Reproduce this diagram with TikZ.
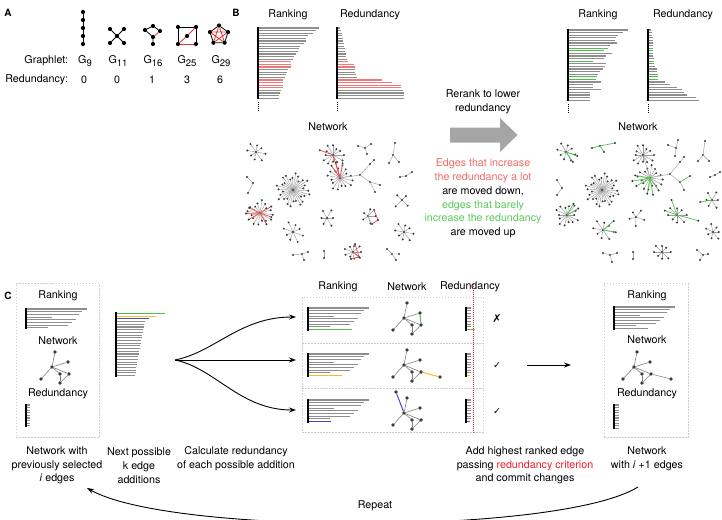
\documentclass[tikz,border=0pt]{standalone}
\usepackage{fontspec}
\setmainfont{TeX Gyre Heros}
\newfontfamily\symfont{DejaVu Sans}
\usetikzlibrary{arrows.meta}

\definecolor{bargray}{HTML}{8E8E8E}
\definecolor{barred}{HTML}{F07878}
\definecolor{bargreen}{HTML}{4FC04F}
\definecolor{baryel}{HTML}{F0C020}
\definecolor{barblue}{HTML}{4A4AD0}
\definecolor{txtred}{HTML}{F06A6A}
\definecolor{txtgreen}{HTML}{5CC85C}
\definecolor{critred}{HTML}{E8202A}
\definecolor{edgegray}{HTML}{A0A0A0}
\definecolor{dotgray}{HTML}{3A3A3A}
\definecolor{arrowgray}{HTML}{A5A5A5}
\definecolor{boxgray}{HTML}{CCCCCC}
\definecolor{netred}{HTML}{EE5050}
\definecolor{netgreen}{HTML}{55C455}
\definecolor{graphred}{HTML}{E83030}

% a hub with spokes of slightly varying length
\newcommand\hub[5]{% x, y, spokes, radius, start angle
  \foreach \hk in {1,...,#3}{%
    \pgfmathsetmacro\hang{#5+360*\hk/#3}%
    \pgfmathsetmacro\hlen{#4*(0.8+0.2*sin(97*\hk))}%
    \draw[netedge] (#1,#2) -- ++(\hang:\hlen) node[netdot]{};
  }%
  \node[netdot] at (#1,#2) {};%
}
% one highlighted spoke
\newcommand\spoke[5]{\draw[#5] (#1,#2) -- ++(#3:#4) node[netdot]{};}
% a column of horizontal bars
\newcommand\bars[4]{% axis x, first y, row step, length/colour list
  \foreach \barlen/\barcol [count=\bi from 0] in {#4}{%
    \draw[bar,\barcol] (#1,#2+\bi*#3) -- ++(\barlen,0);
  }%
}
% small network used in panel C
\newcommand\cnet[3]{% x, y, prefix
  \node[cdot] (#3c) at (#1,#2) {};
  \node[cdot] (#3t) at ([shift={(3,-15)}]#3c) {};
  \node[cdot] (#3r) at ([shift={(16,-5)}]#3c) {};
  \node[cdot] (#3l) at ([shift={(-11,12)}]#3c) {};
  \node[cdot] (#3a) at ([shift={(8,7)}]#3c) {};
  \node[cdot] (#3b) at ([shift={(17,7)}]#3c) {};
  \node[cdot] (#3d) at ([shift={(8,16)}]#3c) {};
  \draw[cedge] (#3c) -- (#3t);
  \draw[cedge] (#3c) -- (#3r);
  \draw[cedge] (#3c) -- (#3l);
  \draw[cedge] (#3c) -- (#3a);
  \draw[cedge] (#3c) -- (#3b);
  \draw[cedge] (#3a) -- (#3d);
  \draw[cedge] (#3b) -- (#3d);
}
\newcommand\gsub[1]{G\raisebox{-0.4ex}{\fontsize{9.5}{9.5}\selectfont#1}}

\begin{document}
\begin{tikzpicture}[x=1pt,y=-1pt,
  every node/.style={inner sep=0pt, outer sep=0pt, font=\fontsize{10.7}{13.7}\selectfont},
  lbl/.style={align=center},
  panel/.style={font=\fontsize{10}{12}\selectfont\bfseries},
  gdot/.style={circle, fill=black, minimum size=4.2pt},
  gedge/.style={line width=0.8pt, black},
  gred/.style={line width=0.8pt, graphred},
  bar/.style={line width=1.05pt},
  axisline/.style={line width=1.3pt, black},
  dotaxis/.style={line width=0.9pt, black, dash pattern=on 0.8pt off 1.2pt},
  netedge/.style={edgegray, line width=0.45pt},
  netdot/.style={circle, fill=dotgray, minimum size=2.2pt},
  hot/.style={netred, line width=0.75pt},
  cool/.style={netgreen, line width=0.75pt},
  cedge/.style={line width=0.6pt, gray},
  cdot/.style={circle, fill=dotgray, minimum size=3.6pt},
  dbox/.style={draw=boxgray, line width=0.6pt, dash pattern=on 1.5pt off 1.5pt},
  arr/.style={-{Stealth[length=7pt,width=5pt]}, line width=0.9pt},
]
\useasboundingbox (0,0) rectangle (722,519);

% ================= A: graphlets =================
\node[panel] (pA) at (8,13) {A};
\foreach \j in {0,...,4} \node[gdot] (p\j) at (83,12+8*\j) {};
\draw[gedge] (p0) -- (p1) -- (p2) -- (p3) -- (p4);

\node[gdot] (s0) at (117,36) {};
\node[gdot] (s1) at (110,29) {};
\node[gdot] (s2) at (124,29) {};
\node[gdot] (s3) at (110,43) {};
\node[gdot] (s4) at (124,43) {};
\foreach \j in {1,...,4} \draw[gedge] (s0) -- (s\j);

\node[gdot] (q1) at (153,26) {};
\node[gdot] (q2) at (145,30) {};
\node[gdot] (q3) at (160,31) {};
\node[gdot] (q4) at (153,37) {};
\node[gdot] (q5) at (153,44) {};
\draw[gedge] (q2) -- (q1) -- (q3);
\draw[gedge] (q2) -- (q4) -- (q5);
\draw[gred] (q3) -- (q4);

\node[gdot] (r1) at (178,27) {};
\node[gdot] (r2) at (196,27) {};
\node[gdot] (r3) at (178,44) {};
\node[gdot] (r4) at (196,44) {};
\node[gdot] (r5) at (187,36) {};
\draw[gedge] (r3) -- (r1) -- (r2) -- (r4);
\draw[gred] (r3) -- (r4);
\draw[gred] (r3) -- (r5);
\draw[gred] (r5) -- (r2);

\foreach \j in {0,...,4} \path (219,35) ++(270+72*\j:9.5) node[gdot] (k\j) {};
\draw[gred] (k0) -- (k2) -- (k4) -- (k1) -- (k3) -- (k0);
\draw[gedge] (k0) -- (k1) -- (k2) -- (k3) -- (k4) -- (k0);

\node[anchor=east] (glab) at (68,61) {Graphlet:};
\node[anchor=east] (rlab) at (68,80) {Redundancy:};
\node (g9)  at (85,61)  {\gsub{9}};
\node (g11) at (118,61) {\gsub{11}};
\node (g16) at (153,61) {\gsub{16}};
\node (g25) at (187,61) {\gsub{25}};
\node (g29) at (221,61) {\gsub{29}};
\node (v9)  at (84,80)  {0};
\node (v11) at (117,80) {0};
\node (v16) at (152,80) {1};
\node (v25) at (187,80) {3};
\node (v29) at (220,80) {6};

% ================= B: reranking =================
\node[panel] (pB) at (236,13) {B};
\node (rk1) at (288,15) {Ranking};
\node (rd1) at (370,15) {Redundancy};
\node (rk2) at (598,15) {Ranking};
\node (rd2) at (683,15) {Redundancy};

\bars{258}{28}{2.6}{61/bargray,58/bargray,55/bargray,50/bargray,48/bargray,48/bargray,46/bargray,42/bargray,41/bargray,40/bargray,38/bargray,36/bargray,35/bargray,33/barred,33/barred,33/barred,30/bargray,29/bargray,28/bargray,27/bargray,25/barred,25/barred,25/barred,25/barred,23/bargray,22/bargray,21/bargray,21/bargray}
\draw[axisline] (258,27) -- (258,99);
\draw[dotaxis] (258,102) -- (258,111);
\bars{337}{28}{2.6}{3/bargray,4/bargray,5/bargray,5/bargray,6/bargray,6/bargray,7/bargray,7/bargray,8/bargray,8/bargray,9/bargray,9/bargray,10/bargray,11/barred,17/barred,18/barred,18/bargray,18/bargray,19/bargray,20/bargray,45/barred,55/barred,64/barred,64/barred,66/bargray,67/bargray,67/bargray,67/bargray}
\draw[axisline] (337,27) -- (337,99);
\draw[dotaxis] (337,102) -- (337,111);

\bars{568}{30}{2.6}{60/bargray,55/bargray,50/bargray,48/bargray,47/bargray,49/bargray,42/bargray,40/bargreen,36/bargreen,44/bargray,38/bargray,36/bargray,25/bargreen,38/bargray,37/bargray,35/bargray,32/bargray,30/bargray,29/bargreen,28/bargreen,33/bargray,25/bargray,25/bargray,33/bargray,22/bargray,22/bargray,22/bargray,22/bargray}
\draw[axisline] (568,29) -- (568,101);
\draw[dotaxis] (568,104) -- (568,113);
\bars{648}{30}{2.6}{3/bargray,4/bargray,4/bargray,5/bargray,5/bargray,5/bargray,5/bargray,5/bargreen,5/bargreen,5/bargray,5/bargray,6/bargray,6/bargreen,6/bargray,7/bargray,9/bargray,9/bargray,10/bargray,10/bargreen,10/bargreen,17/bargray,22/bargray,29/bargray,34/bargray,36/bargray,39/bargray,48/bargray,51/bargray}
\draw[axisline] (648,29) -- (648,101);
\draw[dotaxis] (648,104) -- (648,113);

\node[lbl] (rerank) at (483,102) {Rerank to lower\\redundancy};
\fill[arrowgray] (450,127.5) -- (500,127.5) -- (500,118) -- (517.5,135) -- (500,152) -- (500,142.5) -- (450,142.5) -- cycle;
\node[lbl] (explain) at (483,198.5) {\textcolor{txtred}{Edges that increase}\\\textcolor{txtred}{the redundancy a lot}\\are moved down,\\\textcolor{txtgreen}{edges that barely}\\\textcolor{txtgreen}{increase the redundancy}\\are moved up};

\node (net1) at (328,127) {Network};
\node (net2) at (638,127) {Network};

% network before reranking
\hub{256}{152}{8}{10}{10}
\draw[netedge] (247,177) node[netdot]{} -- (253,183) node[netdot]{} -- (248,193) node[netdot]{};
\hub{293}{190}{30}{17}{3}
\hub{260}{213}{16}{13}{8}
\spoke{260}{213}{150}{13}{hot}
\spoke{260}{213}{178}{14}{hot}
\spoke{260}{213}{205}{12}{hot}
\spoke{260}{213}{330}{13}{hot}
\spoke{260}{213}{20}{12}{hot}
\spoke{260}{213}{60}{13}{hot}
\hub{293}{232}{8}{11}{20}
\hub{327}{218}{6}{9}{0}
\hub{333}{155}{12}{11}{0}
\hub{340}{178}{16}{13}{11}
\draw[hot] (333,155) -- (340,178);
\spoke{333}{155}{200}{14}{hot}
\spoke{340}{178}{255}{16}{hot}
\spoke{340}{178}{280}{15}{hot}
\spoke{340}{178}{235}{15}{hot}
\draw[netedge] (340,178) -- (360,175) node[netdot]{} -- (370,164) node[netdot]{} -- (374,160) node[netdot]{};
\draw[netedge] (360,175) -- (370,182) node[netdot]{} -- (380,185) node[netdot]{};
\draw[netedge] (370,182) -- (375,192) node[netdot]{};
\draw[netedge] (358,146) node[netdot]{} -- (365,148) node[netdot]{} -- (371,144) node[netdot]{};
\draw[netedge] (365,148) -- (367,154) node[netdot]{};
\draw[netedge] (395,143) node[netdot]{} -- (393,155) node[netdot]{} -- (389,163) node[netdot]{};
\draw[netedge] (393,155) -- (399,162) node[netdot]{};
\draw[netedge] (400,177) node[netdot]{} -- (406,176) node[netdot]{} -- (412,172) node[netdot]{};
\hub{402}{200}{4}{9}{45}
\hub{368}{216}{5}{8}{0}
\draw[hot] (374,210) node[netdot]{} -- (378,220) node[netdot]{} -- (372,224) node[netdot]{};
\draw[netedge] (368,216) -- (374,210);
\draw[netedge] (368,216) -- (372,224);
\hub{404}{232}{8}{10}{10}
\hub{353}{252}{9}{9}{0}
\draw[hot] (355,244) node[netdot]{} -- (359,257) node[netdot]{} -- (351,259) node[netdot]{};
\draw[hot] (353,252) -- (359,257);
\draw[netedge] (293,255) node[netdot]{} -- (302,254) node[netdot]{} -- (308,252) node[netdot]{};
\draw[netedge] (302,254) -- (304,260) node[netdot]{};
\draw[netedge] (324,251) node[netdot]{} -- (324,258) node[netdot]{};
\draw[netedge] (387,249) node[netdot]{} -- (392,254) node[netdot]{} -- (399,254) node[netdot]{};
\draw[netedge] (392,254) -- (396,260) node[netdot]{};

% network after reranking
\hub{566}{152}{8}{10}{15}
\spoke{566}{152}{20}{12}{cool}
\spoke{566}{152}{55}{12}{cool}
\draw[cool] (592,148) node[netdot]{} -- (600,146) node[netdot]{} -- (615,143) node[netdot]{};
\draw[cool] (600,146) -- (604,152) node[netdot]{};
\hub{643}{155}{12}{11}{0}
\draw[netedge] (668,145) node[netdot]{} -- (676,148) node[netdot]{} -- (678,140) node[netdot]{};
\draw[netedge] (676,148) -- (675,156) node[netdot]{};
\draw[netedge] (705,141) node[netdot]{} -- (703,155) node[netdot]{} -- (698,161) node[netdot]{};
\draw[netedge] (703,155) -- (709,161) node[netdot]{};
\draw[netedge] (710,177) node[netdot]{} -- (715,175) node[netdot]{} -- (720,172) node[netdot]{};
\hub{650}{178}{16}{13}{7}
\spoke{650}{178}{100}{16}{cool}
\spoke{650}{178}{80}{17}{cool}
\spoke{650}{178}{150}{16}{cool}
\spoke{650}{178}{170}{18}{cool}
\spoke{650}{178}{190}{15}{cool}
\spoke{650}{178}{55}{15}{cool}
\draw[netedge] (643,155) -- (650,178);
\draw[netedge] (650,178) -- (670,174) node[netdot]{} -- (680,162) node[netdot]{} -- (684,157) node[netdot]{};
\draw[netedge] (670,174) -- (680,182) node[netdot]{} -- (684,190) node[netdot]{};
\draw[cool] (680,182) -- (690,176) node[netdot]{};
\draw[netedge] (557,180) node[netdot]{} -- (562,188) node[netdot]{} -- (557,195) node[netdot]{};
\hub{602}{190}{30}{17}{3}
\hub{567}{215}{14}{12}{0}
\spoke{567}{215}{330}{13}{cool}
\spoke{567}{215}{300}{13}{cool}
\hub{603}{230}{8}{11}{10}
\spoke{603}{230}{320}{14}{cool}
\spoke{603}{230}{10}{13}{cool}
\hub{636}{217}{5}{9}{20}
\hub{677}{215}{8}{10}{0}
\spoke{677}{215}{15}{22}{cool}
\spoke{677}{215}{250}{16}{cool}
\spoke{677}{215}{200}{13}{cool}
\hub{712}{200}{6}{9}{0}
\spoke{712}{200}{170}{12}{cool}
\hub{713}{232}{7}{8.5}{0}
\draw[netedge] (603,253) node[netdot]{} -- (610,255) node[netdot]{} -- (617,253) node[netdot]{};
\draw[netedge] (610,255) -- (612,262) node[netdot]{};
\draw[netedge] (633,252) node[netdot]{} -- (633,259) node[netdot]{};
\hub{662}{252}{8}{9}{0}
\draw[netedge] (697,250) node[netdot]{} -- (703,255) node[netdot]{} -- (708,254) node[netdot]{};
\draw[netedge] (703,255) -- (700,260) node[netdot]{};

% ================= C: one iteration =================
\node[panel] (pC) at (8,296) {C};

% current state
\node[dbox, minimum width=83pt, minimum height=154pt] (lbox) at (57.5,360.5) {};
\node (lrk) at (58,296) {Ranking};
\bars{26}{309}{2.7}{61/bargray,56/bargray,53/bargray,26/bargray,50/bargray,46/bargray,42/bargray,22/bargray}
\draw[axisline] (26,308) -- (26,329);
\node (lnw) at (58,341) {Network};
\cnet{52}{367}{L}
\node (lrd) at (58,394) {Redundancy};
\bars{26}{405}{2.6}{4/bargray,4/bargray,4/bargray,4/bargray,4/bargray,4/bargray,4/bargray,4/bargray,4/bargray}
\draw[axisline] (26,404) -- (26,427);

% candidate additions
\bars{116}{313.5}{2.7}{49/bargreen,40/baryel,33/barblue,29/bargray,28/bargray,28/bargray,27/bargray,27/bargray,26/bargray,26/bargray,25/bargray,25/bargray,24/bargray,24/bargray,23/bargray,23/bargray,22/bargray,22/bargray,21/bargray,21/bargray,20/bargray,20/bargray,20/bargray,19/bargray}
\draw[axisline] (116,312) -- (116,377);

% fan of arrows
\coordinate (fan) at (175,360);
\coordinate (f1) at (296,317);
\coordinate (f2) at (296,360);
\coordinate (f3) at (296,410);
\draw[arr] (fan) .. controls (215,352) and (240,317) .. (f1);
\draw[arr] (fan) -- (f2);
\draw[arr] (fan) .. controls (215,368) and (240,410) .. (f3);

% three candidates
\node (mrk) at (338,287) {Ranking};
\node (mnw) at (407,287) {Network};
\node (mrd) at (470,287) {Redundancy};
\node[dbox, minimum width=181pt, minimum height=46pt] (m1) at (392.5,320) {};
\node[dbox, minimum width=181pt, minimum height=45pt] (m2) at (392.5,365.5) {};
\node[dbox, minimum width=181pt, minimum height=44pt] (m3) at (392.5,410) {};

\bars{308}{308}{2.7}{61/bargray,56/bargray,53/bargray,26/bargray,50/bargray,46/bargray,42/bargray,22/bargray,44/bargreen}
\draw[axisline] (308,307) -- (308,331);
\bars{308}{354}{2.7}{61/bargray,56/bargray,53/bargray,26/bargray,50/bargray,46/bargray,42/bargray,22/bargray,34/baryel}
\draw[axisline] (308,353) -- (308,377);
\bars{308}{400}{2.7}{61/bargray,56/bargray,53/bargray,26/bargray,50/bargray,46/bargray,42/bargray,22/bargray,23/barblue}
\draw[axisline] (308,399) -- (308,423);

\cnet{404}{318}{A}
\draw[bargreen, line width=1pt] (Ar) -- (Ab);
\cnet{404}{365}{B}
\node[cdot] (By) at ([shift={(36,12)}]Bc) {};
\draw[baryel, line width=1pt] (Bb) -- (By);
\cnet{404}{413}{C}
\node[cdot] (Cn) at ([shift={(-8,-21)}]Cc) {};
\draw[barblue, line width=1pt] (Cc) -- (Cn);

\bars{466}{308}{2.7}{5/bargray,5/bargray,5/bargray,5/bargray,5/bargray,5/bargray,5/bargray,5/bargray,9/bargreen}
\draw[axisline] (466,307) -- (466,331);
\bars{466}{354}{2.7}{5/bargray,5/bargray,5/bargray,5/bargray,5/bargray,5/bargray,5/bargray,5/bargray,4/baryel}
\draw[axisline] (466,353) -- (466,377);
\bars{466}{400}{2.7}{5/bargray,5/bargray,5/bargray,5/bargray,5/bargray,5/bargray,5/bargray,5/bargray,4/barblue}
\draw[axisline] (466,399) -- (466,423);
\draw[critred, line width=0.9pt, dash pattern=on 1pt off 1pt] (473,284) -- (473,433);

\node (x1) at (497,319) {\symfont\fontsize{11}{12}\selectfont ✗};
\node (c2) at (497,366) {\symfont\fontsize{9.5}{12}\selectfont ✓};
\node (c3) at (497,412) {\symfont\fontsize{9.5}{12}\selectfont ✓};

\coordinate (cm1) at (527,365);
\coordinate (cm2) at (571,365);
\draw[arr] (cm1) -- (cm2);

% updated state
\node[dbox, minimum width=84pt, minimum height=154pt] (rbox) at (646,360.5) {};
\node (rrk) at (647,296) {Ranking};
\bars{614}{307}{2.7}{61/bargray,56/bargray,53/bargray,26/bargray,50/bargray,46/bargray,42/bargray,22/bargray,34/bargray}
\draw[axisline] (614,306) -- (614,330);
\node (rnw) at (647,340) {Network};
\cnet{634}{367}{R}
\node[cdot] (Ry) at ([shift={(37,12)}]Rc) {};
\draw[cedge] (Rb) -- (Ry);
\node (rrd) at (647,394) {Redundancy};
\bars{614}{405}{2.6}{5/bargray,5/bargray,5/bargray,5/bargray,5/bargray,5/bargray,5/bargray,5/bargray,5/bargray,5/bargray}
\draw[axisline] (614,404) -- (614,429);

% captions
\node[lbl] (ltext) at (57,465.5) {Network with\\previously selected\\\textit{i} edges};
\node[lbl] (ntext) at (139,465.5) {Next possible\\k edge\\additions};
\node[lbl] (ctext) at (236,458.5) {Calculate redundancy\\of each possible addition};
\node[lbl] (atext) at (525,465.5) {Add highest ranked edge\\passing \textcolor{critred}{redundancy criterion}\\and commit changes};
\node[lbl] (rtext) at (647,458.5) {Network\\with \textit{i} +1 edges};

% loop back
\node (repeat) at (375,506) {Repeat};
\coordinate (rs) at (638,487);
\coordinate (re) at (87,488);
\begin{scope}
  \clip (0,0) rectangle (722,519);
  \draw[arr] (rs) .. controls (560,535) and (170,535) .. (re);
\end{scope}
\end{tikzpicture}
\end{document}
